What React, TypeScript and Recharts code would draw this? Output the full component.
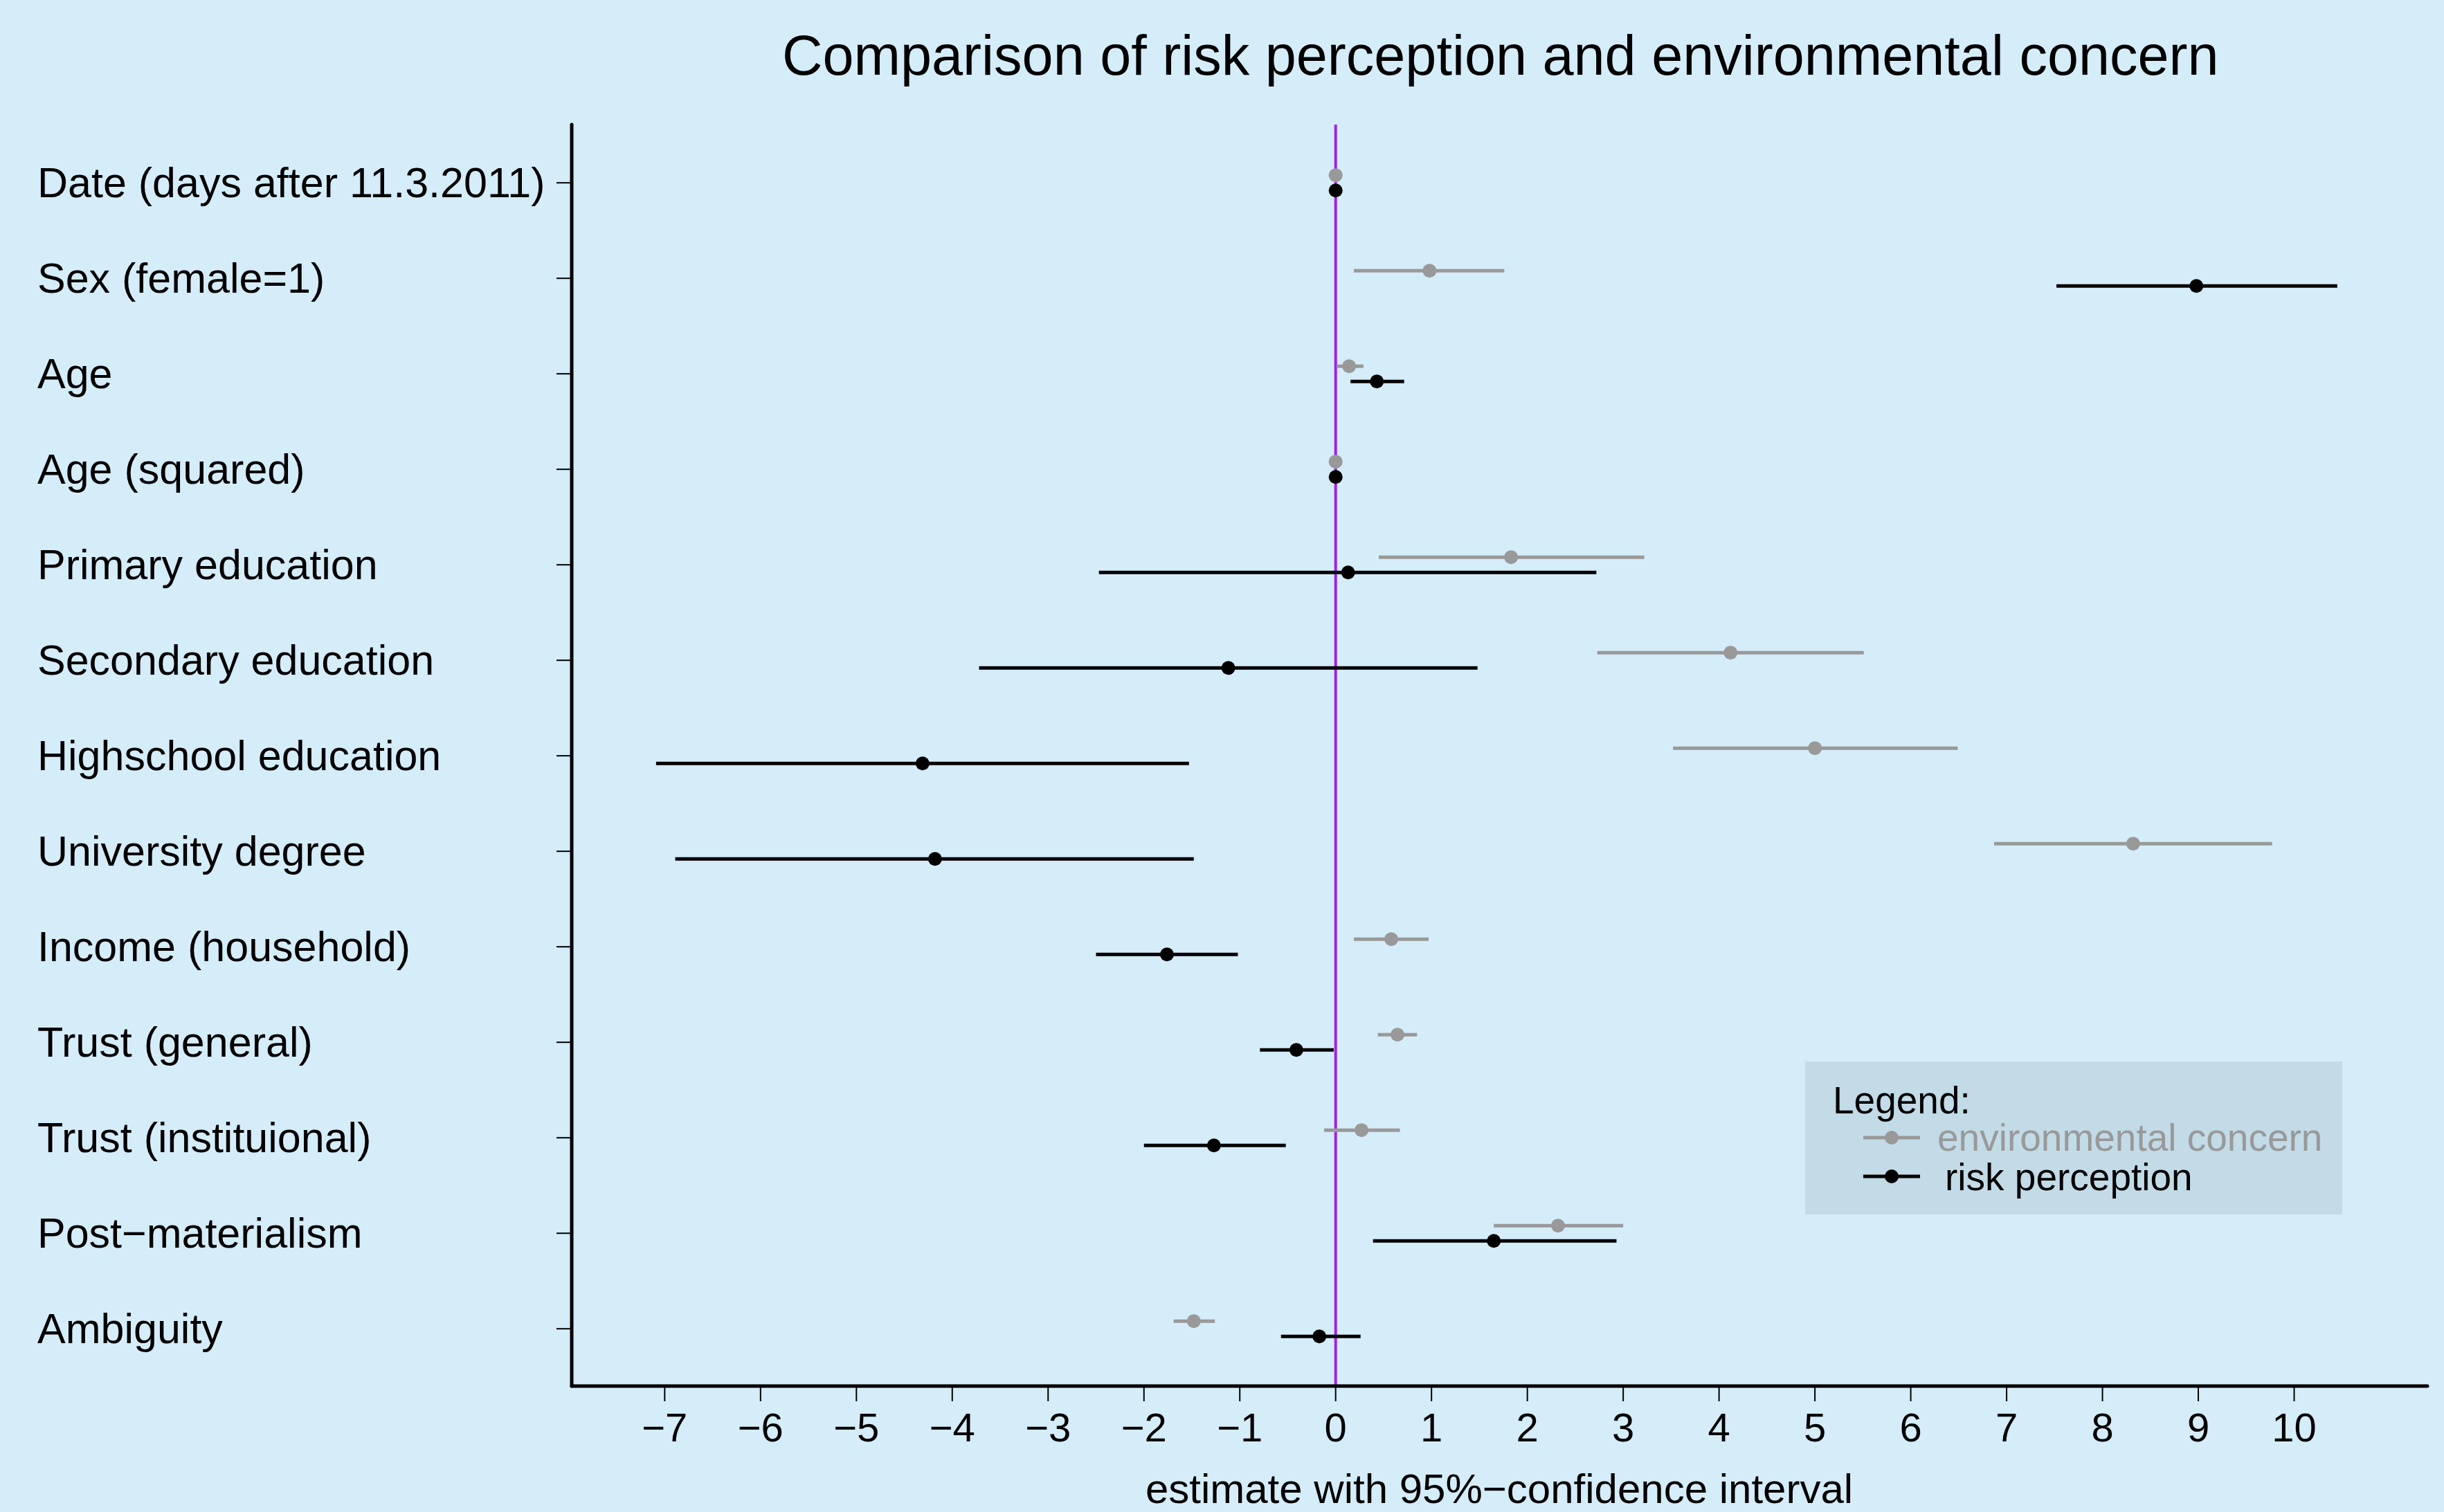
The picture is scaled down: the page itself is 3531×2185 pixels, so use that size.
import {
  ErrorBar,
  ReferenceLine,
  Scatter,
  ScatterChart,
  XAxis,
  YAxis,
} from "recharts";

const categories = [
  "Date (days after 11.3.2011)",
  "Sex (female=1)",
  "Age",
  "Age (squared)",
  "Primary education",
  "Secondary education",
  "Highschool education",
  "University degree",
  "Income (household)",
  "Trust (general)",
  "Trust (instituional)",
  "Post\u2212materialism",
  "Ambiguity",
];

// environmental concern (grey)
const envEst = [0, 0.98, 0.14, 0, 1.83, 4.12, 5.0, 8.32, 0.58, 0.645, 0.27, 2.32, -1.48];
const envLow = [0, 0.19, 0.01, 0, 0.45, 2.73, 3.52, 6.87, 0.19, 0.44, -0.12, 1.65, -1.69];
const envHigh = [0, 1.76, 0.29, 0, 3.22, 5.51, 6.49, 9.77, 0.97, 0.85, 0.67, 3.0, -1.26];

// risk perception (black)
const riskEst = [0, 8.98, 0.43, 0, 0.13, -1.12, -4.31, -4.18, -1.76, -0.41, -1.27, 1.65, -0.17];
const riskLow = [0, 7.52, 0.155, 0, -2.47, -3.72, -7.09, -6.89, -2.5, -0.79, -2.0, 0.39, -0.57];
const riskHigh = [0, 10.45, 0.715, 0, 2.72, 1.48, -1.53, -1.48, -1.02, -0.02, -0.52, 2.93, 0.26];

const xTicks = [-7, -6, -5, -4, -3, -2, -1, 0, 1, 2, 3, 4, 5, 6, 7, 8, 9, 10];

const BG = "#d5ecf9";
const GREY = "#999999";
const FONT = "'Liberation Sans', Arial, Helvetica, sans-serif";
const DODGE = 0.08;
const X_LABEL = "estimate with 95%\u2212confidence interval";

const build = (est: number[], lo: number[], hi: number[], shift: number) =>
  est.map((v, i) => ({ x: v, y: i + shift, err: [v - lo[i], hi[i] - v] }));

const envData = build(envEst, envLow, envHigh, -DODGE);
const riskData = build(riskEst, riskLow, riskHigh, DODGE);

const dot = (fill: string) => (p: any) => <circle cx={p.cx} cy={p.cy} r={10} fill={fill} />;

const minus = (v: number) => (v < 0 ? "\u2212" + Math.abs(v) : String(v));

const CategoryTick = ({ y, payload }: any) => (
  <text x={54} y={y + 21} fontSize={61} fontFamily={FONT} fill="#000">
    {categories[payload.value]}
  </text>
);

export default function App() {
  return (
    <div style={{ position: "absolute", left: 0, top: 0, width: 3531, height: 2185, background: BG }}>
      <ScatterChart width={3531} height={2185} margin={{ top: 180, right: 24, left: 0, bottom: 0 }}>
        <XAxis
          type="number"
          dataKey="x"
          domain={[-7.97, 11.39]}
          ticks={xTicks}
          allowDataOverflow
          height={182}
          tickSize={22}
          tickMargin={17}
          tickFormatter={minus}
          axisLine={{ stroke: "#000", strokeWidth: 5, strokeLinecap: "round" }}
          tickLine={{ stroke: "#000", strokeWidth: 2 }}
          tick={{ fontSize: 58, fill: "#000", fontFamily: FONT }}
        />
        <YAxis
          type="number"
          dataKey="y"
          domain={[-0.61, 12.6]}
          reversed
          allowDataOverflow
          ticks={categories.map((_, i) => i)}
          width={826}
          tickSize={22}
          axisLine={{ stroke: "#000", strokeWidth: 5, strokeLinecap: "round" }}
          tickLine={{ stroke: "#000", strokeWidth: 2 }}
          tick={<CategoryTick />}
        />
        <ReferenceLine x={0} stroke="#a020f0" strokeWidth={4} />
        <Scatter name="environmental concern" data={envData} shape={dot(GREY)} isAnimationActive={false}>
          <ErrorBar dataKey="err" direction="x" width={0} stroke={GREY} strokeWidth={5} isAnimationActive={false} />
        </Scatter>
        <Scatter name="risk perception" data={riskData} shape={dot("#000")} isAnimationActive={false}>
          <ErrorBar dataKey="err" direction="x" width={0} stroke="#000" strokeWidth={5} isAnimationActive={false} />
        </Scatter>
      </ScatterChart>
      <svg
        width={3531}
        height={2185}
        style={{ position: "absolute", left: 0, top: 0, pointerEvents: "none" }}
        fontFamily={FONT}
      >
        <text x={1130} y={108} fontSize={81} fill="#000">
          Comparison of risk perception and environmental concern
        </text>
        <text x={2166} y={2172} fontSize={60} fill="#000" textAnchor="middle">
          {X_LABEL}
        </text>
        <rect x={2608} y={1534} width={776} height={221} fill="#c2dbe6" />
        <text x={2648} y={1609} fontSize={55} fill="#000">Legend:</text>
        <line x1={2692} x2={2774} y1={1644} y2={1644} stroke={GREY} strokeWidth={5} />
        <circle cx={2733} cy={1644} r={10} fill={GREY} />
        <text x={2799} y={1663} fontSize={55} fill={GREY}>environmental concern</text>
        <line x1={2692} x2={2774} y1={1700} y2={1700} stroke="#000" strokeWidth={5} />
        <circle cx={2733} cy={1700} r={10} fill="#000" />
        <text x={2810} y={1720} fontSize={55} fill="#000">risk perception</text>
      </svg>
    </div>
  );
}
